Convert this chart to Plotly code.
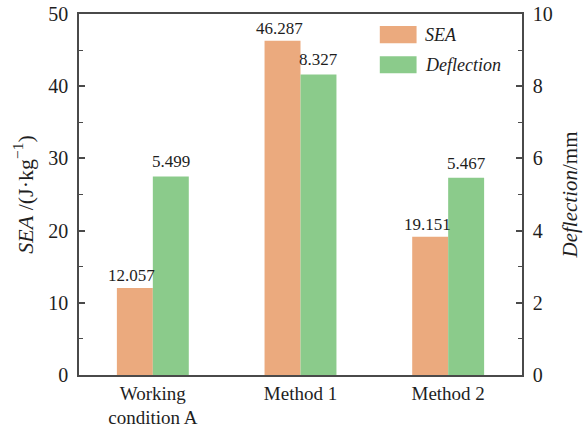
import plotly.graph_objects as go

categories = ["Working<br>condition A", "Method 1", "Method 2"]
sea_values = [12.057, 46.287, 19.151]
deflection_values = [5.499, 8.327, 5.467]
series_names = ["SEA", "Deflection"]
left_ticks = [0, 10, 20, 30, 40, 50]
right_ticks = [0, 2, 4, 6, 8, 10]

orange = "#EBAA7E"
green = "#8BCB8B"
axis_color = "#4a4a4a"
text_color = "#1e1e1e"
font_family = "Liberation Serif"

fig = go.Figure()
fig.add_trace(go.Bar(
    x=categories, y=sea_values, name=series_names[0], yaxis="y",
    offsetgroup="1", marker=dict(color=orange, line=dict(width=0)),
    showlegend=False,
))
fig.add_trace(go.Bar(
    x=categories, y=deflection_values, name=series_names[1], yaxis="y2",
    offsetgroup="2", marker=dict(color=green, line=dict(width=0)),
    showlegend=False,
))

# value labels (drawn as annotations so they sit above neighbouring bars)
for cat, v in zip(categories, sea_values):
    fig.add_annotation(x=cat, y=v, xref="x", yref="y", text=f"{v:.3f}",
                       showarrow=False, xanchor="center", yanchor="bottom",
                       xshift=-21, yshift=1,
                       font=dict(size=17, color=text_color, family=font_family))
for cat, v in zip(categories, deflection_values):
    fig.add_annotation(x=cat, y=v, xref="x", yref="y2", text=f"{v:.3f}",
                       showarrow=False, xanchor="center", yanchor="bottom",
                       xshift=18, yshift=3,
                       font=dict(size=17, color=text_color, family=font_family))

# custom legend (large swatches like the original)
legend_rows = [(0.967, 0.919, orange), (0.883, 0.836, green)]
for (y1, y0, col), name in zip(legend_rows, series_names):
    fig.add_shape(type="rect", xref="paper", yref="paper",
                  x0=0.679, x1=0.762, y0=y0, y1=y1,
                  fillcolor=col, line=dict(width=0))
    fig.add_annotation(xref="paper", yref="paper", x=0.776, y=(y0 + y1) / 2,
                       text=f"<i>{name}</i>", showarrow=False,
                       xanchor="left", yanchor="middle",
                       font=dict(size=18, color=text_color, family=font_family))

fig.update_layout(
    width=586, height=428,
    margin=dict(l=79, r=64, t=14, b=53),
    paper_bgcolor="white", plot_bgcolor="white",
    barmode="group", bargap=0.513, bargroupgap=0,
    font=dict(family=font_family, color=text_color),
    showlegend=False,
    xaxis=dict(
        showline=True, linecolor=axis_color, linewidth=1.5, mirror=True,
        ticks="", tickfont=dict(size=19, color=text_color),
        showgrid=False, range=[-0.5, 2.5], automargin=False,
    ),
    yaxis=dict(
        range=[0, 50], tickvals=left_ticks, showgrid=False, zeroline=False,
        showline=True, linecolor=axis_color, linewidth=1.5,
        ticks="inside", ticklen=6, tickcolor=axis_color, tickwidth=1.5,
        minor=dict(dtick=5, ticks="inside", ticklen=4, tickcolor=axis_color, tickwidth=1.2),
        tickfont=dict(size=20, color=text_color), ticklabelstandoff=5,
        ticklabeloverflow="allow", automargin=False,
        title=dict(text="<i>SEA</i> /(J·kg<sup>−1</sup>)", font=dict(size=22, color=text_color), standoff=9),
    ),
    yaxis2=dict(
        range=[0, 10], tickvals=right_ticks, overlaying="y", side="right",
        showgrid=False, zeroline=False,
        showline=True, linecolor=axis_color, linewidth=1.5,
        ticks="inside", ticklen=6, tickcolor=axis_color, tickwidth=1.5,
        minor=dict(dtick=1, ticks="inside", ticklen=4, tickcolor=axis_color, tickwidth=1.2),
        tickfont=dict(size=20, color=text_color), ticklabelstandoff=5,
        ticklabeloverflow="allow", automargin=False,
        title=dict(text="<i>Deflection</i>/mm", font=dict(size=21, color=text_color), standoff=11),
    ),
)

# remove the default 8px page margin so the figure fills the window exactly
fig.write_html("out.html", config={"displayModeBar": False},
               post_script="document.body.style.margin='0';")
